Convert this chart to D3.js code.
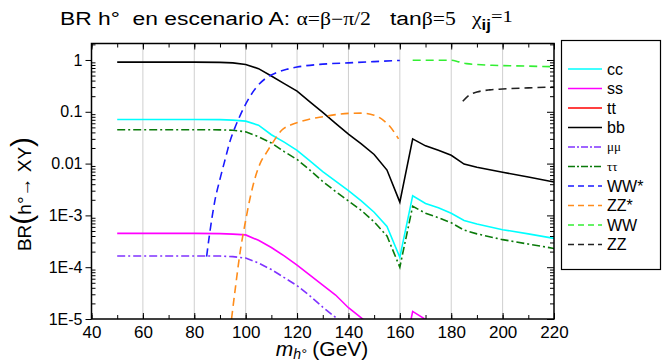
<!DOCTYPE html>
<html>
<head>
<meta charset="utf-8">
<script src="https://cdn.jsdelivr.net/npm/d3@7/dist/d3.min.js"></script>
<style>
  body { margin: 0; background: #fff; }
  text { font-family: Arial, "Liberation Sans", sans-serif; white-space: pre; }
</style>
</head>
<body>
<div id="chart"></div>
<script>
// masses (GeV) for the fermion channels
const massF = [50, 60, 70, 80, 90, 95, 100, 105, 110, 115, 120, 125, 130, 135, 140, 145, 150, 155, 160, 165, 170, 175, 180, 185, 190, 200, 210, 220];
const brCC = [0.071, 0.071, 0.071, 0.071, 0.0705, 0.069, 0.066, 0.055, 0.036, 0.026, 0.018, 0.0113, 0.0070, 0.0046, 0.0030, 0.0019, 0.00115, 0.00061, 0.000155, 0.0024, 0.0017, 0.0014, 0.0011, 0.0008, 0.00068, 0.00053, 0.00044, 0.00036];
const brSS = [4.5e-4, 4.5e-4, 4.5e-4, 4.5e-4, 4.45e-4, 4.35e-4, 4.2e-4, 3.3e-4, 2.4e-4, 1.65e-4, 1.1e-4, 7e-5, 4.5e-5, 2.9e-5, 1.65e-5, 1.05e-5, 6.5e-6, 3.5e-6, 9e-7, 1.4e-5, 9.8e-6, 8e-6, 6.5e-6, 5e-6, 4e-6, 3.2e-6, 2.6e-6, 2.2e-6];
const brBB = [0.91, 0.91, 0.91, 0.91, 0.90, 0.88, 0.82, 0.68, 0.49, 0.35, 0.25, 0.155, 0.097, 0.06, 0.037, 0.024, 0.015, 0.0075, 0.0018, 0.030, 0.022, 0.018, 0.0145, 0.0098, 0.0085, 0.0068, 0.0055, 0.0044];
const brMuMu = [1.65e-4, 1.65e-4, 1.65e-4, 1.65e-4, 1.64e-4, 1.6e-4, 1.5e-4, 1.2e-4, 9e-5, 6.3e-5, 4.4e-5, 2.8e-5, 1.7e-5, 1.07e-5, 7e-6, 4.6e-6, 2.8e-6, 1.5e-6, 3.7e-7, 5.5e-6, 4e-6, 3.3e-6, 2.7e-6, 1.9e-6, 1.6e-6, 1.25e-6, 1e-6, 8.5e-7];
const brTauTau = [0.045, 0.045, 0.045, 0.045, 0.0448, 0.044, 0.041, 0.033, 0.025, 0.017, 0.012, 0.0075, 0.0045, 0.0029, 0.0019, 0.00125, 0.00075, 0.0004, 0.0001, 0.0015, 0.0011, 0.0009, 0.00072, 0.00052, 0.00044, 0.00034, 0.00028, 0.00023];

// gauge boson channels (own mass grids)
const massWWs = [84.8, 86, 88, 90, 92, 94, 96, 98, 100, 104, 108, 112, 116, 120, 130, 140, 150, 160];
const brWWs = [1.6e-4, 4.5e-4, 1.9e-3, 5e-3, 1.2e-2, 0.028, 0.052, 0.088, 0.14, 0.29, 0.45, 0.57, 0.66, 0.73, 0.83, 0.88, 0.93, 0.98];
const massZZs = [94.5, 96, 98, 100, 102, 104, 106, 108, 110, 114, 118, 122, 126, 130, 135, 140, 145, 150, 153, 156, 159.5];
const brZZs = [1e-5, 4e-5, 2.2e-4, 8e-4, 2.5e-3, 6e-3, 1.1e-2, 0.016, 0.023, 0.044, 0.057, 0.066, 0.074, 0.08, 0.088, 0.093, 0.094, 0.086, 0.072, 0.053, 0.03];
const massWW = [165, 170, 175, 180, 183, 186, 190, 196, 200, 210, 220];
const brWW = [0.99, 0.99, 0.99, 0.99, 0.92, 0.85, 0.82, 0.79, 0.78, 0.76, 0.74];
const massZZ = [184.5, 187, 190, 195, 200, 210, 220];
const brZZ = [0.16, 0.21, 0.24, 0.265, 0.275, 0.29, 0.30];

const yTickValues = [1, 0.1, 0.01, 1e-3, 1e-4, 1e-5];
const yTickLabels = ["1", "0.1", "0.01", "1E-3", "1E-4", "1E-5"];
const xTickValues = [40, 60, 80, 100, 120, 140, 160, 180, 200, 220];

const W = 662, H = 361,
    plot = {left: 91.5, right: 554, top: 43.5, bottom: 319},
    serif = "'Liberation Serif', 'Times New Roman', serif";

const series = [
    {key: "cc", x: massF, y: brCC, color: "#00ffff", dash: null, curve: d3.curveLinear},
    {key: "ss", x: massF, y: brSS, color: "#ff00ff", dash: null, curve: d3.curveLinear},
    {key: "tt", x: [], y: [], color: "#ff0000", dash: null, curve: d3.curveLinear},
    {key: "bb", x: massF, y: brBB, color: "#000000", dash: null, curve: d3.curveLinear},
    {key: "μμ", x: massF, y: brMuMu, color: "#8033ff", dash: "8,3,2,3", curve: d3.curveLinear, serif: true},
    {key: "ττ", x: massF, y: brTauTau, color: "#0a7a0a", dash: "8,3,2,3", curve: d3.curveLinear, serif: true},
    {key: "WW*", x: massWWs, y: brWWs, color: "#1a1aff", dash: "8,5", curve: d3.curveMonotoneX},
    {key: "ZZ*", x: massZZs, y: brZZs, color: "#ff8c1a", dash: "8,5", curve: d3.curveMonotoneX},
    {key: "WW", x: massWW, y: brWW, color: "#33ee33", dash: "8,5", curve: d3.curveMonotoneX},
    {key: "ZZ", x: massZZ, y: brZZ, color: "#222222", dash: "8,5", curve: d3.curveMonotoneX}
];

const svg = d3.select("#chart").append("svg")
    .attr("width", W)
    .attr("height", H);

const x = d3.scaleLinear().domain([40, 220]).range([plot.left, plot.right]);
const y = d3.scaleLog().domain([1e-5, 2.08]).range([plot.bottom, plot.top]);

svg.append("clipPath").attr("id", "clip")
    .append("rect")
    .attr("x", plot.left).attr("y", plot.top)
    .attr("width", plot.right - plot.left).attr("height", plot.bottom - plot.top);

// vertical grid
svg.append("g")
    .selectAll("line")
    .data(xTickValues.slice(1, -1))
    .enter().append("line")
    .attr("x1", d => x(d)).attr("x2", d => x(d))
    .attr("y1", plot.top).attr("y2", plot.bottom)
    .style("stroke", "#cfcfcf")
    .style("stroke-width", 1);

// curves
const line = d3.line()
    .x(d => x(d[0]))
    .y(d => y(d[1]));

svg.append("g")
    .attr("clip-path", "url(#clip)")
    .selectAll("path")
    .data(series.filter(s => s.x.length))
    .enter().append("path")
    .attr("d", s => line.curve(s.curve)(d3.zip(s.x, s.y)))
    .style("fill", "none")
    .style("stroke", s => s.color)
    .style("stroke-width", 1.6)
    .style("stroke-dasharray", s => s.dash);

// frame and ticks
const xMinor = d3.range(40, 221, 10);
const yMinor = [];
for (let e = -5; e <= 0; e++) for (let m = 2; m <= 9; m++) if (m * Math.pow(10, e) <= 2.08) yMinor.push(m * Math.pow(10, e));

svg.append("g").attr("transform", "translate(0," + plot.bottom + ")")
    .call(d3.axisBottom(x).tickValues(xMinor).tickSize(-4).tickFormat(""))
    .call(g => g.select(".domain").remove());
svg.append("g").attr("transform", "translate(0," + plot.bottom + ")")
    .call(d3.axisBottom(x).tickValues(xTickValues).tickSizeInner(-6).tickSizeOuter(0).tickPadding(7)
        .tickFormat(d3.format("d")))
    .call(g => g.select(".domain").remove())
    .call(g => g.selectAll("text").style("font-size", "17px").style("font-family", "Arial, sans-serif").attr("fill", "#000"));
svg.append("g").attr("transform", "translate(0," + plot.top + ")")
    .call(d3.axisTop(x).tickValues(xMinor).tickSize(-4).tickFormat(""))
    .call(g => g.select(".domain").remove());
svg.append("g").attr("transform", "translate(0," + plot.top + ")")
    .call(d3.axisTop(x).tickValues(xTickValues).tickSize(-6).tickFormat(""))
    .call(g => g.select(".domain").remove());

svg.append("g").attr("transform", "translate(" + plot.left + ",0)")
    .call(d3.axisLeft(y).tickValues(yMinor).tickSize(-4).tickFormat(""))
    .call(g => g.select(".domain").remove());
svg.append("g").attr("transform", "translate(" + plot.left + ",0)")
    .call(d3.axisLeft(y).tickValues(yTickValues).tickSize(6).tickPadding(3)
        .tickFormat((d, i) => yTickLabels[i]))
    .call(g => g.select(".domain").remove())
    .call(g => g.selectAll("text").style("font-size", "16px").style("font-family", "Arial, sans-serif").attr("fill", "#000"));
svg.append("g").attr("transform", "translate(" + plot.right + ",0)")
    .call(d3.axisRight(y).tickValues(yMinor).tickSize(-4).tickFormat(""))
    .call(g => g.select(".domain").remove());
svg.append("g").attr("transform", "translate(" + plot.right + ",0)")
    .call(d3.axisRight(y).tickValues(yTickValues).tickSize(-7).tickFormat(""))
    .call(g => g.select(".domain").remove());

svg.append("rect")
    .attr("x", plot.left).attr("y", plot.top)
    .attr("width", plot.right - plot.left).attr("height", plot.bottom - plot.top)
    .style("fill", "none")
    .style("stroke", "#000")
    .style("stroke-width", 1.5);

// title, stretched to the width it takes in the original
const titleLeft = 60, titleRight = 513;
const title = svg.append("text")
    .style("font-size", "19px");
title.append("tspan").text("BR h°  en escenario A: ");
title.append("tspan").style("font-family", serif).style("font-size", "18px").text("α=β−π/2");
title.append("tspan").text("   tan");
title.append("tspan").style("font-family", serif).style("font-size", "18px").text("β=5");
title.append("tspan").style("font-family", serif).style("font-size", "18px").text("   χ");
title.append("tspan").attr("dy", 5).style("font-size", "14px").style("font-weight", "bold").text("ij");
title.append("tspan").attr("dy", -8).style("font-family", serif).style("font-size", "17px").text("=1");
const tw = title.node().getComputedTextLength();
title.attr("transform", "translate(" + titleLeft + ",25) scale(" + ((titleRight - titleLeft) / tw) + ",1)");

// y axis label
const yl = svg.append("text")
    .attr("transform", "translate(31,194) rotate(-90)")
    .attr("text-anchor", "middle")
    .style("font-size", "19px");
yl.append("tspan").text("BR");
yl.append("tspan").attr("dy", 1).style("font-size", "30px").style("font-weight", "200").text("(");
yl.append("tspan").attr("dy", -1).text("h°→ XY");
yl.append("tspan").attr("dy", 1).style("font-size", "30px").style("font-weight", "200").text(")");

// x axis label
const xl = svg.append("text")
    .attr("x", 322).attr("y", 356)
    .attr("text-anchor", "middle")
    .style("font-size", "21px");
xl.append("tspan").style("font-style", "italic").text("m");
xl.append("tspan").attr("dy", 3).style("font-style", "italic").style("font-size", "14px").text("h°");
xl.append("tspan").attr("dy", -3).text(" (GeV)");

// legend
const legendTop = 69, legendStep = 19.5;
const legend = svg.append("g");
legend.append("rect")
    .attr("x", 561.5).attr("y", 40.5)
    .attr("width", 99).attr("height", 229)
    .style("fill", "#fff")
    .style("stroke", "#000")
    .style("stroke-width", 1.2);

const entry = legend.selectAll("g.entry")
    .data(series)
    .enter().append("g")
    .attr("class", "entry")
    .attr("transform", (d, i) => "translate(0," + (legendTop + i * legendStep) + ")");

entry.append("line")
    .attr("x1", 568).attr("x2", 602)
    .attr("y1", 0).attr("y2", 0)
    .style("stroke", d => d.color)
    .style("stroke-width", 1.6)
    .style("stroke-dasharray", d => d.dash ? (d.serif ? "7,2,2,2" : "6,4") : null);

entry.append("text")
    .attr("x", 607)
    .attr("y", d => d.serif ? 4 : 5.5)
    .style("font-size", d => d.serif ? "13px" : "16px")
    .style("font-family", d => d.serif ? serif : null)
    .text(d => d.key);
</script>
</body>
</html>
